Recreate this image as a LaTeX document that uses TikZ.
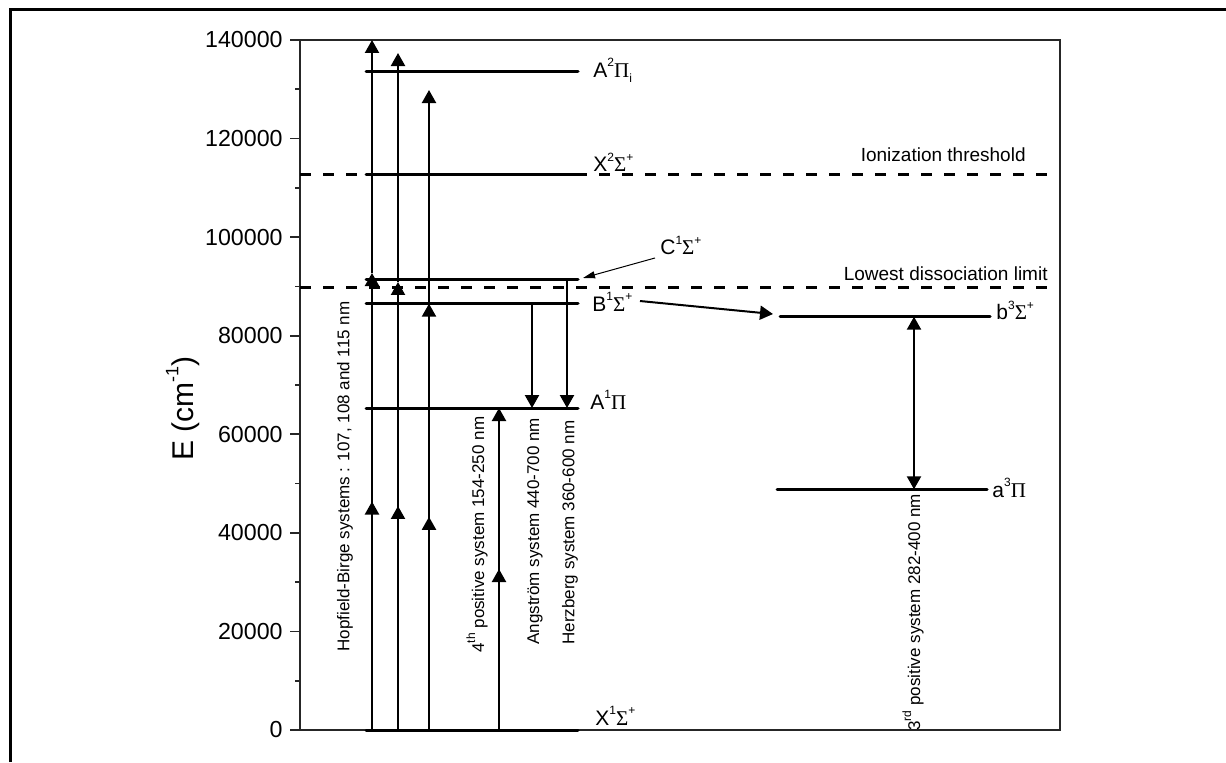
\documentclass[tikz,border=0pt]{standalone}
\usepackage{fontspec}
\setmainfont{Liberation Sans}
\newfontfamily\grk{Liberation Serif}
\newcommand\GrS{{\grk Σ}}
\newcommand\GrP{{\grk Π}}
\newcommand\sups[1]{\raisebox{0.52em}{\fontsize{6}{6}\selectfont #1}}
\newcommand\subs[1]{\raisebox{-0.25em}{\fontsize{6}{6}\selectfont #1}}
\usetikzlibrary{arrows.meta, decorations.markings}
\tikzset{
  Border/.style    = {line width=1.5pt, black},
  AxisBox/.style   = {line width=0.8pt, black!85},
  Level/.style     = {line width=1.5pt, line cap=round},
  Limit/.style     = {line width=1.2pt, dash pattern=on 5.5pt off 6pt},
  Trans/.style     = {line width=1.1pt, -{Triangle[width=7pt,length=6.5pt]}},
  MidTrans/.style  = {Trans, postaction={decorate},
                      decoration={markings, mark=at position 0.5 with
                      {\arrow{Triangle[width=7pt,length=6.5pt]}}}},
  BothTrans/.style = {line width=1.1pt,
                      {Triangle[width=7pt,length=6.5pt]}-{Triangle[width=7pt,length=6.5pt]}},
  Pointer/.style   = {line width=0.5pt, -{Triangle[width=3.5pt,length=6pt]}},
  StateLbl/.style  = {anchor=base west, inner sep=0pt, font=\fontsize{10.5}{12}\selectfont},
  LimitLbl/.style  = {anchor=base east, inner sep=0pt, font=\fontsize{9.5}{11}\selectfont},
  SysLbl/.style    = {rotate=90, anchor=west, inner sep=0pt, font=\fontsize{8.5}{10}\selectfont},
  TickLbl/.style   = {anchor=east, inner sep=0pt, font=\fontsize{11.6}{13}\selectfont},
  AxisLbl/.style   = {rotate=90, inner sep=0pt, font=\fontsize{15}{17}\selectfont},
}

\begin{document}
\begin{tikzpicture}[x=0.5pt, y=2.4643pt]
  \useasboundingbox (0,-6.493) rectangle (1226,148.115);
  % frame and axis
  \draw[Border] (10,-6.493) -- (10,146.09) -- (1226,146.09);
  \draw[AxisBox] (300,0) rectangle (1060,140);
  \foreach \v/\t in {0/0, 20/20000, 40/40000, 60/60000, 80/80000, 100/100000, 120/120000, 140/140000} {
    \draw[AxisBox] (300,\v) -- (290,\v);
    \node[TickLbl] (tick\v) at (283,\v) {\t};
  }
  \foreach \v in {10,30,...,130}
    \draw[AxisBox] (300,\v) -- (295,\v);
  \node[AxisLbl] (ylab) at (183,65.2) {E (cm\sups{\fontsize{9}{9}\selectfont -1})};

  % limits
  \foreach \nm/\en in {ion/112.71, diss/89.82} {
    \coordinate (\nm-l) at (300,\en);
    \coordinate (\nm-r) at (1048,\en);
    \draw[Limit] (\nm-l) -- (\nm-r);
  }
  \node[LimitLbl] (ionlbl)  at (1026,115.25) {Ionization threshold};
  \node[LimitLbl] (disslbl) at (1048,91.30) {Lowest dissociation limit};

  % levels
  \foreach \nm/\en/\xa/\xb in {A2P/133.51/366/578, X2S/112.71/366/578, C1S/91.45/366/578,
                               B1S/86.50/366/578, A1P/65.33/366/578, X1S/0/366/578,
                               b3S/83.86/780/990, a3P/48.84/777/987} {
    \coordinate (\nm-l) at (\xa,\en);
    \coordinate (\nm-r) at (\xb,\en);
    \draw[Level] (\nm-l) -- (\nm-r);
  }
  \node[StateLbl] (lblA2P) at (593,132.49) {A\sups{2}\GrP\subs{i}};
  \node[StateLbl] (lblX2S) at (593,113.22) {X\sups{2}\GrS\sups{+}};
  \node[StateLbl] (lblC1S) at (660,96.38) {C\sups{1}\GrS\sups{+}};
  \node[StateLbl] (lblB1S) at (592,85.01) {B\sups{1}\GrS\sups{+}};
  \node[StateLbl] (lblA1P) at (590,65.13) {A\sups{1}\GrP};
  \node[StateLbl] (lblX1S) at (595,1.01) {X\sups{1}\GrS\sups{+}};
  \node[StateLbl] (lblb3S) at (996,83.19) {b\sups{3}\GrS\sups{+}};
  \node[StateLbl] (lbla3P) at (992,47.27) {a\sups{3}\GrP};

  % Hopfield-Birge
  \foreach \x/\mid/\top in {372/92.72/140, 398/90.90/137.36, 429/86.50/129.85} {
    \coordinate (hb\x-lo) at (\x,0);
    \coordinate (hb\x-mi) at (\x,\mid);
    \coordinate (hb\x-hi) at (\x,\top);
    \draw[MidTrans] (hb\x-lo) -- (hb\x-mi);
    \draw[Trans] (hb\x-mi) -- (hb\x-hi);
  }
  % 4th positive, Angstrom, Herzberg
  \coordinate (fp-lo) at (499,0);
  \coordinate (fp-hi) at (499,65.33);
  \draw[MidTrans] (fp-lo) -- (fp-hi);
  \coordinate (ang-hi) at (532,86.50);
  \coordinate (ang-lo) at (532,65.33);
  \draw[Trans] (ang-hi) -- (ang-lo);
  \coordinate (hz-hi) at (567,91.45);
  \coordinate (hz-lo) at (567,65.33);
  \draw[Trans] (hz-hi) -- (hz-lo);
  % 3rd positive
  \coordinate (tp-hi) at (914,83.86);
  \coordinate (tp-lo) at (914,48.84);
  \draw[BothTrans] (tp-hi) -- (tp-lo);

  % pointers
  \coordinate (ptrC) at (655,95.77);
  \coordinate (ptrCend) at (583,91.71);
  \draw[Pointer] (ptrC) -- (ptrCend);
  \coordinate (ptrB) at (640,87.04);
  \coordinate (ptrBend) at (773,84.40);
  \draw[Trans, line width=1pt] (ptrB) -- (ptrBend);

  % system labels
  \node[SysLbl] (hblbl)  at (345,15.83) {Hopfield-Birge systems : 107, 108 and 115 nm};
  \node[SysLbl] (fplbl)  at (477,15.62) {4\sups{th} positive system 154-250 nm};
  \node[SysLbl] (anglbl) at (535,17.25) {Angstr\"om system 440-700 nm};
  \node[SysLbl] (hzlbl)  at (570,17.25) {Herzberg system 360-600 nm};
  \node[SysLbl] (tplbl)  at (913,-0.2) {3\sups{rd} positive system 282-400 nm};
\end{tikzpicture}
\end{document}
